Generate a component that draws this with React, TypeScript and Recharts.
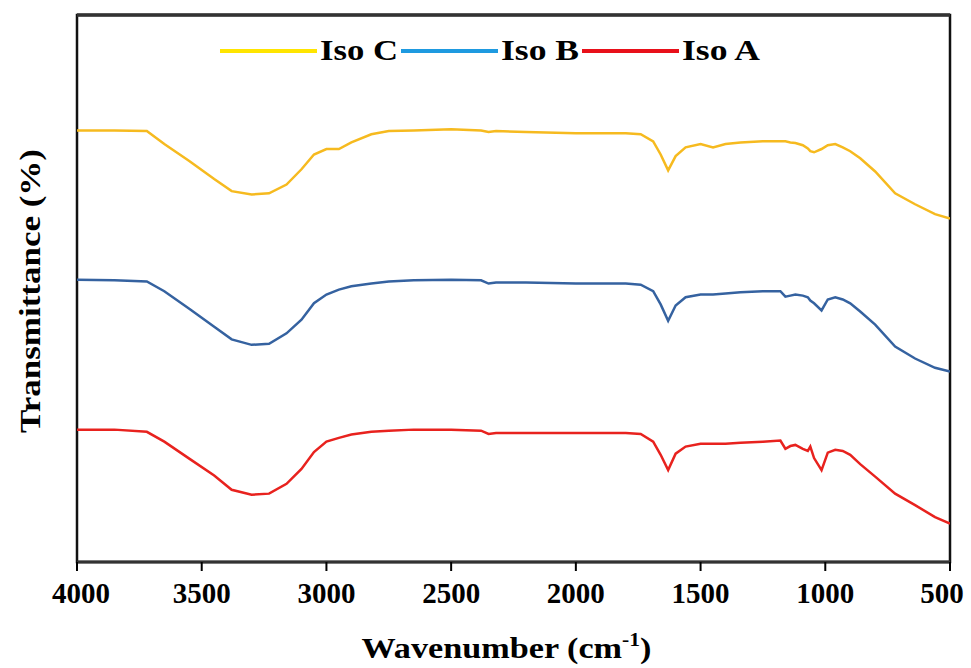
import React from 'react';
import { LineChart, Line, XAxis, YAxis, ReferenceArea, ReferenceLine, Legend } from 'recharts';

const wavenumbers = [4000, 3850, 3720, 3650, 3550, 3450, 3380, 3300, 3230, 3160, 3100, 3050, 3000, 2950, 2900, 2820, 2750, 2650, 2500, 2380, 2350, 2320, 2200, 2000, 1800, 1740, 1690, 1660, 1630, 1600, 1560, 1500, 1450, 1400, 1340, 1250, 1180, 1160, 1140, 1120, 1090, 1070, 1060, 1045, 1015, 990, 960, 930, 900, 860, 800, 720, 640, 560, 500];

const isoC = [78.9, 78.9, 78.8, 76.4, 73.3, 70.0, 67.8, 67.2, 67.4, 69.0, 71.8, 74.5, 75.5, 75.5, 76.7, 78.2, 78.8, 78.9, 79.1, 78.9, 78.6, 78.8, 78.6, 78.4, 78.4, 78.2, 76.9, 74.5, 71.6, 74.2, 75.8, 76.4, 75.8, 76.4, 76.7, 76.9, 76.9, 76.9, 76.7, 76.6, 76.2, 75.6, 75.1, 74.9, 75.5, 76.2, 76.4, 75.8, 75.1, 73.8, 71.4, 67.4, 65.4, 63.6, 62.8];

const isoB = [51.6, 51.5, 51.3, 49.5, 46.3, 43.0, 40.7, 39.7, 39.9, 41.8, 44.3, 47.3, 48.9, 49.8, 50.4, 50.9, 51.3, 51.5, 51.6, 51.5, 50.9, 51.1, 51.1, 50.9, 50.9, 50.7, 49.5, 47.1, 44.1, 46.9, 48.4, 48.9, 48.9, 49.1, 49.3, 49.5, 49.5, 48.5, 48.7, 48.9, 48.7, 48.4, 47.8, 47.3, 46.0, 48.0, 48.4, 48.0, 47.3, 45.8, 43.4, 39.4, 37.2, 35.5, 34.8];

const isoA = [24.2, 24.2, 23.8, 22.0, 18.9, 15.8, 13.2, 12.3, 12.5, 14.3, 17.0, 20.1, 22.0, 22.7, 23.3, 23.8, 24.0, 24.2, 24.2, 24.0, 23.4, 23.6, 23.6, 23.6, 23.6, 23.4, 22.0, 19.6, 16.8, 19.8, 21.1, 21.6, 21.6, 21.6, 21.8, 22.0, 22.2, 20.7, 21.2, 21.4, 20.7, 20.3, 21.1, 19.0, 16.8, 20.0, 20.5, 20.3, 19.6, 17.9, 15.6, 12.5, 10.4, 8.2, 7.0];

const xTicks = [4000, 3500, 3000, 2500, 2000, 1500, 1000, 500];
const seriesKeys = ['c', 'b', 'a'];
const seriesNames = ['Iso C', 'Iso B', 'Iso A'];
const lineColors = ['#F6BA1F', '#3562A0', '#E8221E'];
const legendColors = ['#FFE500', '#1E9AE0', '#E8101A'];
const yTitle = 'Transmittance (%)';

const data = wavenumbers.map((w, i) => ({ w, c: isoC[i], b: isoB[i], a: isoA[i] }));

const FONT = '"Liberation Serif", "Times New Roman", serif';

function XTick(props: any) {
  const { x, y, payload } = props;
  const shift = payload.value === 4000 ? 4 : payload.value === 500 ? -8 : 0;
  return (
    <text x={x + shift} y={y} dy={30} textAnchor="middle" fontFamily={FONT} fontWeight="bold" fontSize={29} fill="#000">
      {payload.value}
    </text>
  );
}

function LegendContent() {
  const lineLen = 97;
  const textLen = 78;
  const gap = 3;
  return (
    <svg width={560} height={40} style={{ display: 'block' }}>
      {seriesNames.map((name, i) => {
        const x0 = i * (lineLen + gap + textLen + gap);
        return (
          <g key={name}>
            <line x1={x0} x2={x0 + lineLen} y1={21} y2={21} stroke={legendColors[i]} strokeWidth={4} />
            <text
              x={x0 + lineLen + gap}
              y={30}
              fontFamily={FONT}
              fontWeight="bold"
              fontSize={30}
              fill="#000"
              textLength={textLen}
              lengthAdjust="spacingAndGlyphs"
            >
              {name}
            </text>
          </g>
        );
      })}
    </svg>
  );
}

function XTitle(props: any) {
  const vb = props.viewBox || { x: 77, y: 562, width: 873, height: 60 };
  const cx = vb.x + vb.width / 2 - 7;
  return (
    <text
      x={cx}
      y={658}
      textAnchor="middle"
      fontFamily={FONT}
      fontWeight="bold"
      fontSize={30}
      fill="#000"
      textLength={290}
      lengthAdjust="spacingAndGlyphs"
    >
      <tspan>Wavenumber (cm</tspan>
      <tspan dy={-12} fontSize={19}>-1</tspan>
      <tspan dy={12}>)</tspan>
    </text>
  );
}

function YTitleOverlay() {
  const cx = 40;
  const cy = 291;
  return (
    <svg
      width={60}
      height={668}
      style={{ position: 'absolute', left: 0, top: 0, pointerEvents: 'none' }}
    >
      <text
        x={cx}
        y={cy}
        transform={`rotate(-90, ${cx}, ${cy})`}
        textAnchor="middle"
        fontFamily={FONT}
        fontWeight="bold"
        fontSize={30}
        fill="#000"
        textLength={284}
        lengthAdjust="spacingAndGlyphs"
      >
        {yTitle}
      </text>
    </svg>
  );
}

export default function App() {
  return (
    <div style={{ position: 'absolute', left: 0, top: 0, width: 971, height: 668, background: '#fff' }}>
      <LineChart
        width={971}
        height={668}
        data={data}
        margin={{ top: 15, right: 21, left: 77, bottom: 46 }}
      >
        <XAxis
          dataKey="w"
          type="number"
          domain={[500, 4000]}
          reversed
          ticks={xTicks}
          interval={0}
          allowDataOverflow
          height={60}
          tickSize={9}
          tickMargin={2}
          axisLine={{ stroke: '#333', strokeWidth: 3 }}
          tickLine={{ stroke: '#000', strokeWidth: 2 }}
          tick={<XTick />}
          label={{ content: (p: any) => <XTitle {...p} /> }}
        />
        <YAxis
          type="number"
          domain={[0, 100]}
          width={0}
          tick={false}
          axisLine={false}
          tickLine={false}
          allowDataOverflow
        />
        <ReferenceArea
          x1={4000}
          x2={500}
          y1={0}
          y2={100}
          fill="none"
          fillOpacity={0}
          stroke="#111"
          strokeWidth={2.5}
          ifOverflow="visible"
        />
        <ReferenceLine y={100} stroke="#333" strokeWidth={3.5} ifOverflow="visible" />
        {seriesKeys.map((k, i) => (
          <Line
            key={k}
            type="linear"
            dataKey={k}
            name={seriesNames[i]}
            stroke={lineColors[i]}
            strokeWidth={2.5}
            dot={false}
            activeDot={false}
            isAnimationActive={false}
          />
        ))}
        <Legend
          layout="horizontal"
          verticalAlign="middle"
          align="center"
          content={() => <LegendContent />}
          wrapperStyle={{ position: 'absolute', left: 220, top: 30, width: 560, height: 40 }}
        />
      </LineChart>
      <YTitleOverlay />
    </div>
  );
}
